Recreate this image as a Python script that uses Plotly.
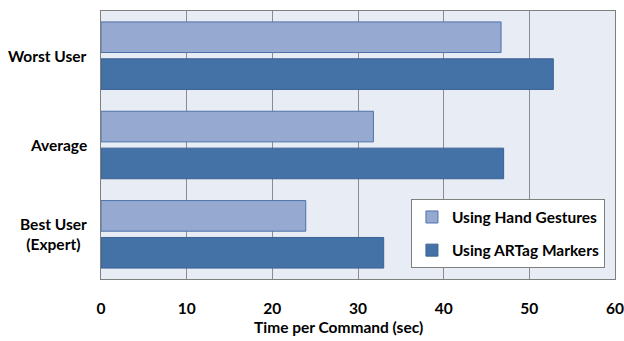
import plotly.graph_objects as go

# Time per command (seconds) for each user group
categories = ["Worst User", "Average", "Best User<br>(Expert)"]
hand_gestures = [46.7, 31.8, 23.9]
artag_markers = [52.8, 47.0, 33.0]
series_names = ["Using Hand Gestures", "Using ARTag Markers"]
x_ticks = [0, 10, 20, 30, 40, 50, 60]

FONT = "Lato"
TEXT = "#000000"
BOLD = dict(family=FONT, size=15.5, color=TEXT, weight="bold")

fig = go.Figure()
fig.add_trace(go.Bar(
    y=categories, x=hand_gestures, orientation="h", name=series_names[0],
    marker=dict(color="#95A9D1", line=dict(color="#4D72A8", width=1)),
    legendgroup="a",
))
fig.add_trace(go.Bar(
    y=categories, x=artag_markers, orientation="h", name=series_names[1],
    marker=dict(color="#4472A6", line=dict(color="#3A6294", width=1)),
    legendgroup="b",
))

# Category labels, centred line by line, placed at the category positions
for cat in categories:
    fig.add_annotation(
        x=0, xref="paper", y=cat, yref="y", text=cat,
        xanchor="right", yanchor="middle", align="center", xshift=-12,
        showarrow=False, font=BOLD,
    )

# Axis title below the tick labels
fig.add_annotation(
    x=0.463, xref="paper", y=-0.18, yref="paper", yanchor="middle",
    text="Time per Command (sec)", showarrow=False, font=BOLD,
)

fig.update_layout(
    width=624, height=341,
    margin=dict(l=101, r=9, t=11, b=62),
    paper_bgcolor="white", plot_bgcolor="#E8ECF4",
    barmode="group", bargap=0.174, bargroupgap=0.17,
    font=dict(family=FONT, size=15, color=TEXT),
    legend=dict(
        x=0.603, y=0.297, xanchor="left", yanchor="top",
        bgcolor="white", bordercolor="#808080", borderwidth=1,
        font=BOLD, traceorder="grouped", tracegroupgap=10,
    ),
    xaxis=dict(
        range=[0, 60], tickvals=x_ticks, showgrid=True, gridcolor="#8C8C8C",
        gridwidth=1, zeroline=False, showline=True, linecolor="#7F7F7F",
        mirror=True, ticks="", ticklabelstandoff=15, automargin=False,
        tickfont=BOLD,
    ),
    yaxis=dict(
        autorange="reversed", showticklabels=False, showgrid=False,
        showline=True, linecolor="#7F7F7F", mirror=True, ticks="",
        automargin=False,
    ),
)

fig.write_html("out.html")
